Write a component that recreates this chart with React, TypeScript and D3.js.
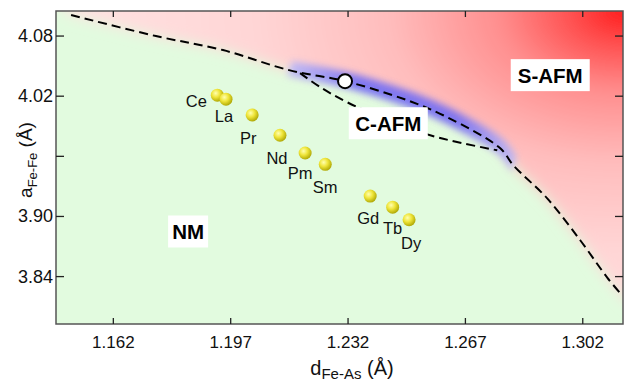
import React from 'react';
import * as d3 from 'd3';

const W = 626;
const H = 383;

// rare-earth compounds: Fe-As bond length vs Fe-Fe distance
const elements = ['Ce', 'La', 'Pr', 'Nd', 'Pm', 'Sm', 'Gd', 'Tb', 'Dy'];
const dFeAs = [1.193, 1.1956, 1.2034, 1.2117, 1.2192, 1.2252, 1.2386, 1.2453, 1.2502];
const aFeFe = [4.021, 4.017, 4.0013, 3.981, 3.9633, 3.952, 3.9203, 3.9093, 3.8967];

// NM / magnetic phase boundary (upper dashed line)
const upperD = [1.1494, 1.1747, 1.1947, 1.2144, 1.2311, 1.2496, 1.2616, 1.2774, 1.2813, 1.2914, 1.3013, 1.3093, 1.3138];
const upperA = [4.101, 4.08, 4.066, 4.046, 4.035, 4.016, 3.999, 3.968, 3.951, 3.918, 3.876, 3.839, 3.821];

// C-AFM / NM boundary (lower dashed branch)
const lowerD = [1.2177, 1.2237, 1.2317, 1.2446, 1.2565, 1.2663, 1.2765];
const lowerA = [4.043, 4.029, 4.014, 3.995, 3.981, 3.973, 3.966];

// open marker
const markD = [1.2311];
const markA = [4.035];

const phaseNames = ['S-AFM', 'C-AFM', 'NM'];
const phaseD = [1.2923, 1.244, 1.1843];
const phaseA = [4.041, 3.993, 3.885];

const xTicks = [1.162, 1.197, 1.232, 1.267, 1.302];
const xTickLabels = ['1.162', '1.197', '1.232', '1.267', '1.302'];
const yTicks = [3.84, 3.9, 3.96, 4.02, 4.08];
const yTickLabels = ['3.84', '3.90', '', '4.02', '4.08'];

// where each element name sits relative to its sphere (px)
const labelOffset: [number, number][] = [[-21, 6], [-2, 17], [-4, 23], [-3, 23], [-5, 20], [0, 23], [-2, 22], [0, 21], [2, 23]];

const FONT = 'Liberation Sans, Arial, sans-serif';

export default function App() {
  const left = 56, right = 623, top = 11, bottom = 324;
  const x = d3.scaleLinear().domain([1.1449, 1.314]).range([left, right]);
  const y = d3.scaleLinear().domain([3.7927, 4.105]).range([bottom, top]);

  const upperPts: [number, number][] = upperD.map((d, i) => [x(d), y(upperA[i])]);
  const lowerPts: [number, number][] = lowerD.map((d, i) => [x(d), y(lowerA[i])]);

  const curve = d3.line<[number, number]>().x(p => p[0]).y(p => p[1]).curve(d3.curveCatmullRom.alpha(0.5));

  // red region above the boundary
  const redPath = curve(upperPts) + ` L${right + 20},${bottom - 10} L${right + 20},${top - 20} L${left - 10},${top - 20} Z`;

  // blue band hugging the boundary where C-AFM sits
  const bandSrc = upperPts.filter(p => p[0] >= x(1.2144) - 2 && p[0] <= x(1.2813) + 2);
  const bandTop = bandSrc.map(p => [p[0] + 3, p[1] - 9] as [number, number]);
  const bandBot = bandSrc.map(p => [p[0] - 2, p[1] + 6] as [number, number]).reverse();
  const bandPath = curve(bandTop) + ' L' + curve(bandBot)!.slice(1) + ' Z';

  return (
    <svg width={W} height={H} style={{ position: 'absolute', left: 0, top: 0, background: '#fff' }} fontFamily={FONT}>
      <defs>
        <clipPath id="plot">
          <rect x={left} y={top} width={right - left} height={bottom - top} />
        </clipPath>
        <radialGradient id="red" gradientUnits="userSpaceOnUse" cx={right} cy={top} r={620}
          gradientTransform={`translate(${right},${top}) scale(1,0.65) translate(${-right},${-top})`}>
          <stop offset="0" stopColor="#ff1a1a" />
          <stop offset="0.08" stopColor="#ff4e4e" />
          <stop offset="0.2" stopColor="#ff8e8e" />
          <stop offset="0.38" stopColor="#ffbdbd" />
          <stop offset="0.6" stopColor="#ffd6d6" />
          <stop offset="1" stopColor="#ffe6e6" />
        </radialGradient>
        <linearGradient id="blue" gradientUnits="userSpaceOnUse" x1={x(1.2144)} y1={0} x2={x(1.2813)} y2={0}>
          <stop offset="0" stopColor="#b0b0ff" />
          <stop offset="0.3" stopColor="#5050ff" />
          <stop offset="0.75" stopColor="#5050ff" />
          <stop offset="1" stopColor="#a8a8ff" />
        </linearGradient>
        <radialGradient id="ball" cx="0.38" cy="0.35" r="0.7">
          <stop offset="0" stopColor="#ffffb0" />
          <stop offset="0.45" stopColor="#efe53a" />
          <stop offset="1" stopColor="#a9a200" />
        </radialGradient>
        <filter id="soft" x="-20%" y="-20%" width="140%" height="140%">
          <feGaussianBlur stdDeviation="7" />
        </filter>
        <filter id="softB" x="-20%" y="-50%" width="140%" height="200%">
          <feGaussianBlur stdDeviation="3.5" />
        </filter>
      </defs>

      <g clipPath="url(#plot)">
        <rect x={left} y={top} width={right - left} height={bottom - top} fill="#e2fbdf" />
        <path d={redPath} fill="url(#red)" filter="url(#soft)" />
        <path d={bandPath} fill="url(#blue)" opacity={0.7} filter="url(#softB)" />
        <path d={curve(upperPts)!} fill="none" stroke="#000" strokeWidth={2} strokeDasharray="9,5" />
        <path d={curve(lowerPts)!} fill="none" stroke="#000" strokeWidth={2} strokeDasharray="9,5" />
      </g>

      {/* frame */}
      <rect x={left} y={top} width={right - left} height={bottom - top} fill="none" stroke="#555" strokeWidth={1.5} />

      {/* ticks */}
      {xTicks.map((t, i) => (
        <g key={'x' + i}>
          <line x1={x(t)} x2={x(t)} y1={bottom} y2={bottom - 6} stroke="#222" strokeWidth={1.3} />
          <line x1={x(t)} x2={x(t)} y1={top} y2={top + 6} stroke="#222" strokeWidth={1.3} />
          <text x={x(t)} y={348} textAnchor="middle" fontSize={17} fill="#111">{xTickLabels[i]}</text>
        </g>
      ))}
      {yTicks.map((t, i) => (
        <g key={'y' + i}>
          <line x1={left} x2={left + 8} y1={y(t)} y2={y(t)} stroke="#222" strokeWidth={1.3} />
          <line x1={right} x2={right - 8} y1={y(t)} y2={y(t)} stroke="#222" strokeWidth={1.3} />
          <text x={53} y={y(t) + 6} textAnchor="end" fontSize={18} fill="#111">{yTickLabels[i]}</text>
        </g>
      ))}

      {/* axis titles */}
      <text x={352} y={375} textAnchor="middle" fontSize={20} fill="#111">
        <tspan>d</tspan>
        <tspan fontSize={15} dy={4}>Fe-As</tspan>
        <tspan dy={-4}> (Å)</tspan>
      </text>
      <text transform="translate(32,160) rotate(-90)" textAnchor="middle" fontSize={19} fill="#111">
        <tspan>a</tspan>
        <tspan fontSize={13} dy={5}>Fe-Fe</tspan>
        <tspan dy={-5}> (Å)</tspan>
      </text>

      {/* phase labels */}
      {phaseNames.map((n, i) => {
        const w = n.length * 13 + 14;
        const cx = x(phaseD[i]);
        const cy = y(phaseA[i]);
        return (
          <g key={n}>
            <rect x={cx - w / 2} y={cy - 16} width={w} height={32} fill="#fff" />
            <text x={cx} y={cy + 7.5} textAnchor="middle" fontSize={20.5} fontWeight="bold" fill="#000">{n}</text>
          </g>
        );
      })}

      {/* compounds */}
      {elements.map((e, i) => (
        <g key={e}>
          <circle cx={x(dFeAs[i])} cy={y(aFeFe[i])} r={6.5} fill="url(#ball)" />
          <text x={x(dFeAs[i]) + labelOffset[i][0]} y={y(aFeFe[i]) + labelOffset[i][1] + 6} textAnchor="middle" fontSize={16.5} fill="#111">{e}</text>
        </g>
      ))}

      {markD.map((d, i) => (
        <circle key={'m' + i} cx={x(d)} cy={y(markA[i])} r={7} fill="#fff" stroke="#000" strokeWidth={2} />
      ))}
    </svg>
  );
}
